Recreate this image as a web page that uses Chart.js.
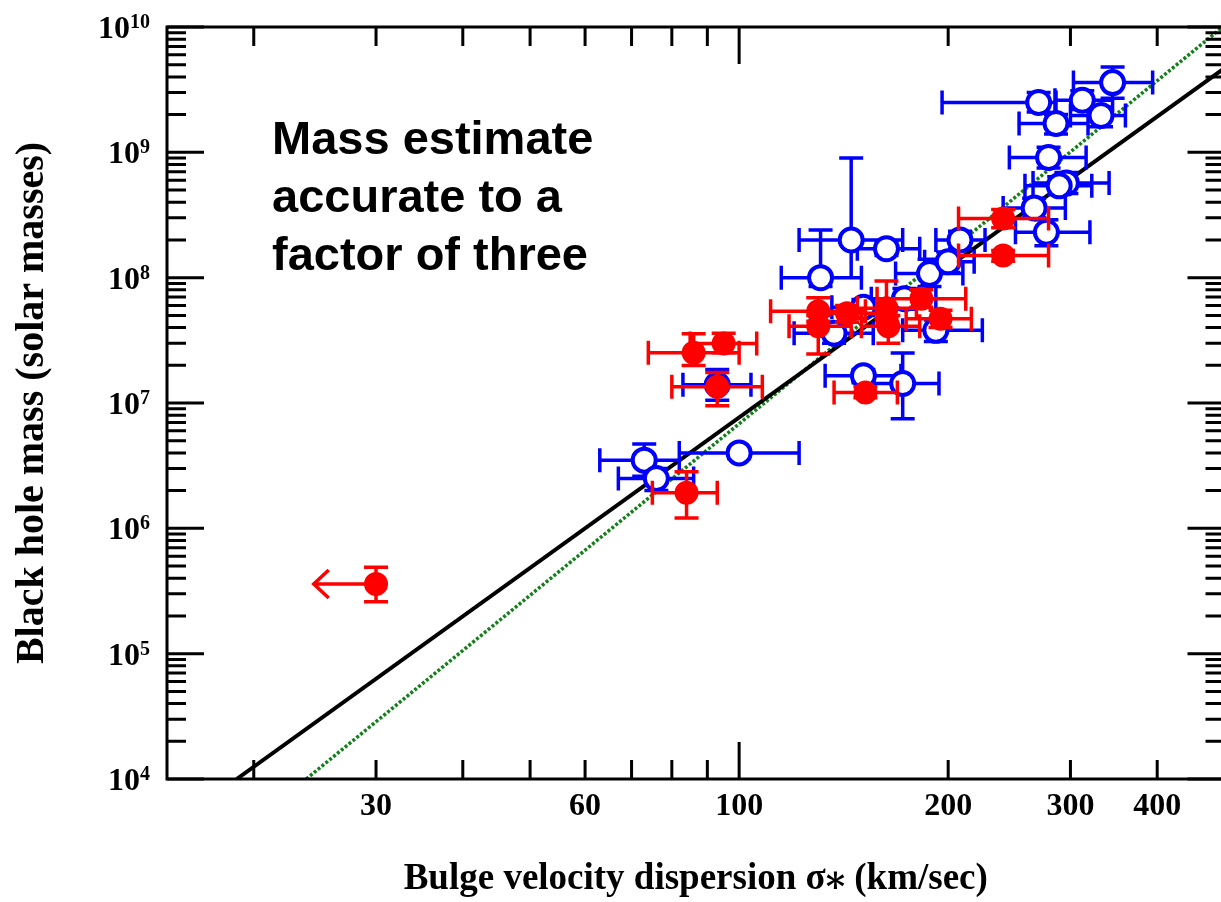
<!DOCTYPE html>
<html>
<head>
<meta charset="utf-8">
<script src="https://cdn.jsdelivr.net/npm/chart.js@4.4.1/dist/chart.umd.min.js"></script>
<style>
  html, body { margin: 0; padding: 0; background: #fff; overflow: hidden; }
</style>
</head>
<body>
<canvas id="chart" width="1240" height="902"></canvas>
<script>
// velocity dispersion (km/s) and black hole mass (solar masses)
// blue: open circles
const blueSigma   = [73, 76, 100, 93, 151, 172, 145, 131, 163, 188, 200, 208, 173, 137, 151, 192, 345, 270, 312, 332, 286, 279, 296, 289, 266, 277];
const blueSigmaLo = [63, 67, 82, 83, 133, 153, 122, 115, 148, 168, 185, 192, 155, 120, 136, 172, 303, 196, 285, 300, 253, 245, 265, 258, 240, 250];
const blueSigmaHi = [82, 86, 122, 104, 171, 194, 172, 150, 182, 210, 218, 226, 192, 156, 168, 224, 394, 286, 345, 360, 318, 316, 341, 322, 295, 320];
const blueMass    = [3.5e6, 2.5e6, 4.0e6, 1.4e7, 1.65e7, 1.43e7, 2.0e8, 1.0e8, 1.7e8, 1.08e8, 1.34e8, 2.0e8, 6.8e7, 3.6e7, 5.8e7, 3.8e7, 3.6e9, 2.5e9, 2.6e9, 1.97e9, 1.7e9, 9.1e8, 5.7e8, 5.4e8, 3.6e8, 2.3e8];
const blueMassLo  = [2.6e6, 2.0e6, 3.6e6, 1.05e7, 1.45e7, 7.5e6, 1.0e8, 8.5e7, 1.5e8, 8.5e7, 1.1e8, 1.7e8, 5.6e7, 3.0e7, 5.0e7, 3.1e7, 2.7e9, 2.1e9, 2.2e9, 1.6e9, 1.4e9, 7.5e8, 4.7e8, 4.6e8, 3.0e8, 1.8e8];
const blueMassHi  = [4.7e6, 3.0e6, 4.4e6, 1.85e7, 1.85e7, 2.5e7, 9.0e8, 2.4e8, 1.95e8, 1.4e8, 1.6e8, 2.35e8, 8.2e7, 4.3e7, 6.7e7, 4.6e7, 4.8e9, 3.0e9, 3.1e9, 2.3e9, 2.0e9, 1.1e9, 6.9e8, 6.4e8, 4.3e8, 2.9e8];

// red: filled circles (first one is an upper limit in sigma)
const redSigma   = [30, 84, 86, 95, 93, 152, 130, 130, 143, 163, 164, 183, 195, 240, 240];
const redSigmaLo = [30, 75, 74, 85, 80, 137, 111, 118, 128, 148, 150, 158, 174, 207, 207];
const redSigmaHi = [30, 93, 100, 106, 108, 169, 152, 145, 158, 180, 182, 212, 216, 279, 279];
const redMass    = [3.6e5, 1.92e6, 2.52e7, 2.98e7, 1.35e7, 1.21e7, 5.4e7, 4.1e7, 5.2e7, 5.7e7, 4.1e7, 6.8e7, 4.7e7, 2.97e8, 1.5e8];
const redMassLo  = [2.6e5, 1.21e6, 1.99e7, 2.5e7, 9.5e6, 1.1e7, 4.5e7, 2.46e7, 4.4e7, 4.7e7, 3.0e7, 5.8e7, 4.0e7, 2.5e8, 1.35e8];
const redMassHi  = [4.9e5, 2.83e6, 3.57e7, 3.6e7, 1.75e7, 1.35e7, 6.9e7, 5.0e7, 6.0e7, 9.4e7, 5.0e7, 8.0e7, 5.5e7, 3.5e8, 1.65e8];
const redLimitTo = [24.4, null, null, null, null, null, null, null, null, null, null, null, null, null, null];

// fitted relations (end points)
const fitSigma = [18.9, 500];
const fitMass = [1e4, 4.7e9];
const fit2Sigma = [23.8, 497];
const fit2Mass = [1e4, 1e10];

// ticks
const xTickLabels = [30, 60, 100, 200, 300, 400];
const xMajorTicks = [100];
const xMinorTicks = [20, 30, 40, 50, 60, 70, 80, 90, 200, 300, 400, 500];
const yTickValues = [1e4, 1e5, 1e6, 1e7, 1e8, 1e9, 1e10];
const yMinorSteps = [2, 3, 4, 5, 6, 7, 8, 9];

const noteLines = ['Mass estimate', 'accurate to a', 'factor of three'];

const serif = '"Liberation Serif", "Times New Roman", "DejaVu Serif", serif';

function points(sx, sLo, sHi, m, mLo, mHi, lim) {
  return sx.map((s, i) => ({
    x: s, y: m[i], xMin: sLo[i], xMax: sHi[i], yMin: mLo[i], yMax: mHi[i],
    limitTo: lim ? lim[i] : null
  }));
}

const errorBars = {
  id: 'errorBars',
  beforeDatasetDraw(chart, args) {
    const ds = chart.data.datasets[args.index];
    if (!ds.errorColor) return;
    const {ctx, chartArea: a, scales: {x, y}} = chart;
    const cap = 12;
    ctx.save();
    ctx.beginPath();
    ctx.rect(a.left, a.top, a.right - a.left, a.bottom - a.top);
    ctx.clip();
    ctx.strokeStyle = ds.errorColor;
    ctx.lineWidth = 3.5;
    ctx.beginPath();
    ds.data.forEach(p => {
      const px = x.getPixelForValue(p.x);
      const py = y.getPixelForValue(p.y);
      if (p.xMin !== p.xMax) {
        const x0 = x.getPixelForValue(p.xMin), x1 = x.getPixelForValue(p.xMax);
        ctx.moveTo(x0, py); ctx.lineTo(x1, py);
        ctx.moveTo(x0, py - cap); ctx.lineTo(x0, py + cap);
        ctx.moveTo(x1, py - cap); ctx.lineTo(x1, py + cap);
      }
      if (p.yMin !== p.yMax) {
        const y0 = y.getPixelForValue(p.yMin), y1 = y.getPixelForValue(p.yMax);
        ctx.moveTo(px, y0); ctx.lineTo(px, y1);
        ctx.moveTo(px - cap, y0); ctx.lineTo(px + cap, y0);
        ctx.moveTo(px - cap, y1); ctx.lineTo(px + cap, y1);
      }
      if (p.limitTo) {
        const tx = x.getPixelForValue(p.limitTo);
        ctx.moveTo(px, py); ctx.lineTo(tx, py);
        ctx.moveTo(tx + 15, py - 14); ctx.lineTo(tx, py); ctx.lineTo(tx + 15, py + 14);
      }
    });
    ctx.stroke();
    ctx.restore();
  }
};

const frameTicks = {
  id: 'frameTicks',
  afterDraw(chart) {
    const {ctx, chartArea: a, scales: {x, y}} = chart;
    const major = 37, minor = 19;
    ctx.save();
    ctx.strokeStyle = '#000';
    ctx.lineWidth = 3;
    ctx.beginPath();
    const xMark = (v, len) => {
      const px = x.getPixelForValue(v);
      ctx.moveTo(px, a.bottom); ctx.lineTo(px, a.bottom - len);
      ctx.moveTo(px, a.top); ctx.lineTo(px, a.top + len);
    };
    const yMark = (v, len) => {
      const py = y.getPixelForValue(v);
      ctx.moveTo(a.left, py); ctx.lineTo(a.left + len, py);
      ctx.moveTo(a.right, py); ctx.lineTo(a.right - len, py);
    };
    xMajorTicks.forEach(v => xMark(v, major));
    xMinorTicks.forEach(v => xMark(v, minor));
    yTickValues.forEach((v, i) => {
      yMark(v, major);
      if (i < yTickValues.length - 1) yMinorSteps.forEach(s => yMark(v * s, minor));
    });
    ctx.stroke();
    ctx.strokeRect(a.left, a.top, a.right - a.left, a.bottom - a.top);

    // y tick labels as 10 with a raised exponent
    ctx.fillStyle = '#000';
    ctx.textBaseline = 'alphabetic';
    ctx.textAlign = 'left';
    yTickValues.forEach(v => {
      const py = y.getPixelForValue(v);
      const exp = String(Math.round(Math.log10(v)));
      ctx.font = 'bold 20px ' + serif;
      const ew = ctx.measureText(exp).width;
      ctx.font = 'bold 32px ' + serif;
      const bw = ctx.measureText('10').width;
      const right = a.left - 17;
      ctx.fillText('10', right - ew - bw, py + 11);
      ctx.font = 'bold 20px ' + serif;
      ctx.fillText(exp, right - ew, py + 1);
    });

    // annotation
    ctx.font = 'bold 47px "Liberation Sans", Arial, sans-serif';
    noteLines.forEach((t, i) => ctx.fillText(t, a.left + 105, a.top + 127 + i * 58));
    ctx.restore();
  }
};

new Chart(document.getElementById('chart'), {
  type: 'scatter',
  data: {
    datasets: [
      {
        label: 'red',
        data: points(redSigma, redSigmaLo, redSigmaHi, redMass, redMassLo, redMassHi, redLimitTo),
        errorColor: '#ff0000',
        pointRadius: 11,
        pointBackgroundColor: '#ff0000',
        pointBorderColor: '#ff0000',
        pointBorderWidth: 2,
        order: 1
      },
      {
        label: 'blue',
        data: points(blueSigma, blueSigmaLo, blueSigmaHi, blueMass, blueMassLo, blueMassHi),
        errorColor: '#0000ff',
        pointRadius: 11.5,
        pointBackgroundColor: '#ffffff',
        pointBorderColor: '#0000ff',
        pointBorderWidth: 4,
        order: 2
      },
      {
        label: 'fit',
        data: fitSigma.map((s, i) => ({x: s, y: fitMass[i]})),
        showLine: true,
        pointRadius: 0,
        borderColor: '#000000',
        borderWidth: 4,
        order: 3
      },
      {
        label: 'fit2',
        data: fit2Sigma.map((s, i) => ({x: s, y: fit2Mass[i]})),
        showLine: true,
        pointRadius: 0,
        borderColor: '#13801a',
        borderWidth: 3.5,
        borderDash: [3, 2],
        order: 4
      }
    ]
  },
  options: {
    responsive: false,
    animation: false,
    devicePixelRatio: 1,
    layout: { padding: { top: 27, right: 11, left: 0, bottom: 0 } },
    plugins: { legend: { display: false }, tooltip: { enabled: false } },
    scales: {
      x: {
        type: 'logarithmic',
        position: 'bottom',
        min: 15,
        max: 500,
        grid: { display: false, drawTicks: false },
        border: { display: false },
        afterBuildTicks: s => { s.ticks = xTickLabels.map(v => ({ value: v })); },
        afterFit: s => { s.height = 123; },
        ticks: {
          autoSkip: false,
          maxRotation: 0,
          padding: 9,
          color: '#000',
          font: { family: serif, size: 32, weight: 'bold' },
          callback: v => String(v)
        },
        title: {
          display: true,
          text: 'Bulge velocity dispersion σ⁎ (km/sec)',
          color: '#000',
          font: { family: serif, size: 37, weight: 'bold' },
          padding: { top: 0, bottom: 0 }
        }
      },
      y: {
        type: 'logarithmic',
        position: 'left',
        min: 1e4,
        max: 1e10,
        grid: { display: false, drawTicks: false },
        border: { display: false },
        afterBuildTicks: s => { s.ticks = yTickValues.map(v => ({ value: v })); },
        afterFit: s => { s.width = 167; },
        ticks: { display: false },
        title: {
          display: true,
          text: 'Black hole mass (solar masses)',
          color: '#000',
          font: { family: serif, size: 40, weight: 'bold' },
          padding: { top: 9, bottom: 0 }
        }
      }
    }
  },
  plugins: [errorBars, frameTicks]
});
</script>
</body>
</html>
